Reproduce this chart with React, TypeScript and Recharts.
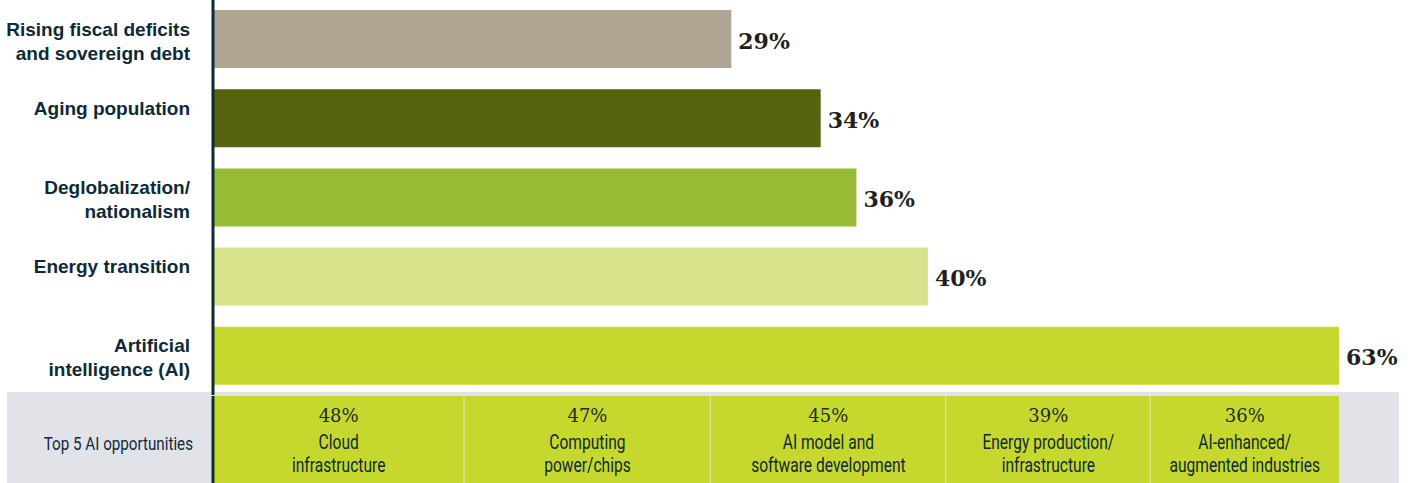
import { Bar, BarChart, Cell, LabelList, XAxis, YAxis } from "recharts";

const DRIVERS = [
  "Rising fiscal deficits\nand sovereign debt",
  "Aging population",
  "Deglobalization/\nnationalism",
  "Energy transition",
  "Artificial\nintelligence (AI)",
];
const DRIVER_VALUES = [29, 34, 36, 40, 63];
const DRIVER_COLORS = ["#aea693", "#56620d", "#96bb34", "#d8e38b", "#c6d82e"];

const OPPORTUNITY_ROW_LABEL = "Top 5 AI opportunities";
const OPPORTUNITIES = [
  "Cloud\ninfrastructure",
  "Computing\npower/chips",
  "AI model and\nsoftware development",
  "Energy production/\ninfrastructure",
  "AI-enhanced/\naugmented industries",
];
const OPPORTUNITY_VALUES = [48, 47, 45, 39, 36];

const INK = "#0e2a38";
const AXIS = "#0e2a36";
// no condensed face installed, so Roboto gets squeezed horizontally
const NARROW = "Roboto, sans-serif";
const SERIF = "'DejaVu Serif', Georgia, serif";

const driverData = DRIVERS.map((name, i) => ({ name, value: DRIVER_VALUES[i] }));
const oppKeys = OPPORTUNITY_VALUES.map((_, i) => `o${i}`);
const oppRow: Record<string, string | number> = { name: OPPORTUNITY_ROW_LABEL };
OPPORTUNITY_VALUES.forEach((v, i) => {
  oppRow[oppKeys[i]] = v;
});
const oppTotal = OPPORTUNITY_VALUES.reduce((s, v) => s + v, 0);

function DriverTick(props: any) {
  const { x, y, payload } = props;
  const lines = String(payload.value).split("\n");
  return (
    <text x={x} y={y} textAnchor="end" fontFamily="'Liberation Sans', Arial, sans-serif" fontWeight="bold" fontSize={19} fill={INK}>
      {lines.map((line, i) => (
        <tspan key={i} x={x} y={y - 3 + i * 24}>
          {line}
        </tspan>
      ))}
    </text>
  );
}

function OppTick(props: any) {
  const { x, y, payload } = props;
  return (
    <text
      transform={`translate(${x},${y + 10.5}) scale(0.8,1)`}
      x={0}
      y={0}
      textAnchor="end"
      fontFamily={NARROW}
      fontSize={19}
      fill={INK}
    >
      {payload.value}
    </text>
  );
}

function driverValueLabel(props: any) {
  const { x, y, width, height, value } = props;
  return (
    <text x={x + width + 7} y={y + height / 2 + 9.5} fontFamily={SERIF} fontWeight="bold" fontSize={22} fill="#231f20">
      {value}%
    </text>
  );
}

function cellShape(isLast: boolean) {
  return (props: any) => {
    const { x, y, width, height, fill } = props;
    return (
      <g>
        <rect x={x} y={y} width={width} height={height} fill={fill} />
        {!isLast && <line x1={x + width} x2={x + width} y1={y} y2={y + height} stroke="#f3f5ea" strokeWidth={1.5} />}
      </g>
    );
  };
}

function cellLabel(index: number) {
  return (props: any) => {
    const { x, y, width } = props;
    const cx = x + width / 2;
    const lines = OPPORTUNITIES[index].split("\n");
    return (
      <g>
        <text x={cx} y={y + 26} textAnchor="middle" fontFamily={SERIF} fontSize={18} fill="#1d2b2b">
          {OPPORTUNITY_VALUES[index]}%
        </text>
        {lines.map((line, i) => (
          <text
            key={i}
            transform={`translate(${cx},${y + 53 + i * 23}) scale(0.76,1)`}
            x={0}
            y={0}
            textAnchor="middle"
            fontFamily={NARROW}
            fontSize={20.5}
            fill={INK}
          >
            {line}
          </text>
        ))}
      </g>
    );
  };
}

export default function App() {
  return (
    <div style={{ position: "absolute", left: 0, top: 0, width: 1415, height: 483, background: "#fff" }}>
      <div style={{ position: "absolute", left: 7, top: 392, width: 1392, height: 91, background: "#e2e3e8" }}>
        <BarChart
          width={1392}
          height={91}
          data={[oppRow]}
          layout="vertical"
          margin={{ top: 4, right: 60, bottom: 0, left: 0 }}
          barCategoryGap={0}
        >
          <XAxis type="number" domain={[0, oppTotal]} hide />
          {oppKeys.map((key, i) => (
            <Bar
              key={key}
              dataKey={key}
              stackId="opp"
              fill="#c6d82e"
              isAnimationActive={false}
              shape={cellShape(i === oppKeys.length - 1)}
            >
              <LabelList dataKey={key} content={cellLabel(i)} />
            </Bar>
          ))}
          <YAxis
            type="category"
            dataKey="name"
            width={206}
            tick={<OppTick />}
            tickLine={false}
            tickSize={0}
            tickMargin={20}
            axisLine={{ stroke: AXIS, strokeWidth: 3 }}
          />
        </BarChart>
      </div>
      <div style={{ position: "absolute", left: 0, top: 0, width: 1415, height: 395 }}>
        <BarChart
          width={1415}
          height={395}
          data={driverData}
          layout="vertical"
          margin={{ top: -1, right: 76, bottom: 0, left: 0 }}
        >
          <XAxis type="number" domain={[0, 63]} hide />
          <Bar dataKey="value" barSize={58} isAnimationActive={false}>
            {driverData.map((d, i) => (
              <Cell key={d.name} fill={DRIVER_COLORS[i]} />
            ))}
            <LabelList dataKey="value" content={driverValueLabel} />
          </Bar>
          <YAxis
            type="category"
            dataKey="name"
            width={213}
            interval={0}
            tick={<DriverTick />}
            tickLine={false}
            tickSize={0}
            tickMargin={23}
            axisLine={{ stroke: AXIS, strokeWidth: 3 }}
          />
        </BarChart>
      </div>
    </div>
  );
}
